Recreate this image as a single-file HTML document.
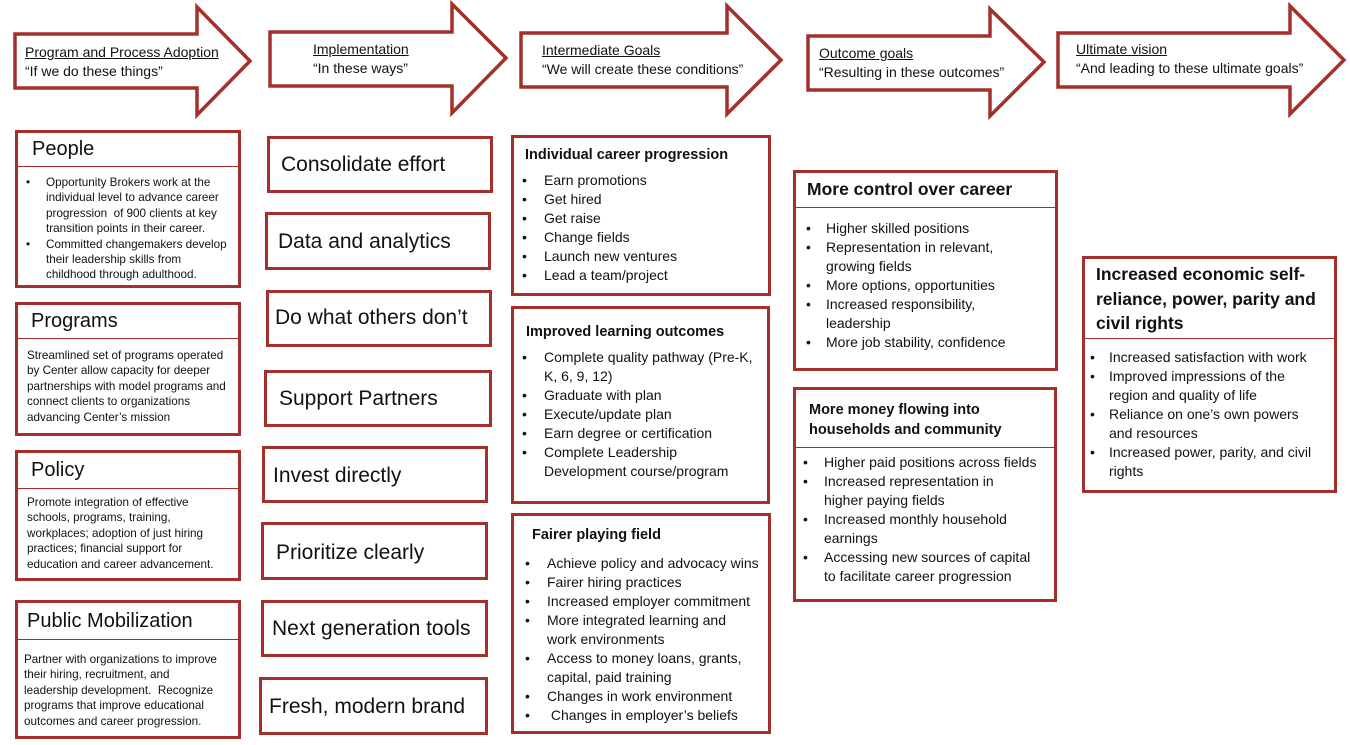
<!DOCTYPE html>
<html><head><meta charset="utf-8"><style>
*{margin:0;padding:0;box-sizing:border-box}
body{width:1350px;height:745px;background:#fff;position:relative;font-family:"Liberation Sans",sans-serif;color:#111;overflow:hidden}
.b{position:absolute;border:3px solid #a3302a;background:#fff}
.t{position:absolute;white-space:nowrap}
.hl{position:absolute;left:0;right:0;border-top:1px solid #a3302a}
ul{list-style:none;position:absolute;white-space:nowrap}
li{position:relative;padding-left:var(--p)}
li:before{content:"•";position:absolute;left:var(--bl)}
.s{font-size:11.7px;line-height:15.4px;white-space:nowrap}
.m{font-size:14px;line-height:19px}
.big{font-size:21px}
</style></head><body>
<svg width="1350" height="120" style="position:absolute;left:0;top:0" fill="#fff" stroke="#a3302a" stroke-width="3.5">
<polygon points="15,34 197,34 197,7 250,61 197,115 197,88 15,88"/>
<polygon points="270,32 452,32 452,4 506,58 452,113 452,86 270,86"/>
<polygon points="521,33 727,33 727,6 781,60 727,114 727,87 521,87"/>
<polygon points="808,36 990,36 990,9 1044,62 990,116 990,90 808,90"/>
<polygon points="1058,33 1290,33 1290,6 1344,60 1290,114 1290,87 1058,87"/>
</svg>
<div class="t" style="left:25px;top:43px;font-size:14px;line-height:19px"><u>Program and Process Adoption</u><br>“If we do these things”</div>
<div class="t" style="left:313px;top:40px;font-size:14px;line-height:19px"><u>Implementation</u><br>“In these ways”</div>
<div class="t" style="left:542px;top:41px;font-size:14px;line-height:19px"><u>Intermediate Goals</u><br>“We will create these conditions”</div>
<div class="t" style="left:819px;top:44px;font-size:14px;line-height:19px"><u>Outcome goals</u><br>“Resulting in these outcomes”</div>
<div class="t" style="left:1076px;top:40px;font-size:14px;line-height:19px"><u>Ultimate vision</u><br>“And leading to these ultimate goals”</div>

<!-- col1 -->
<div class="b" style="left:15px;top:130px;width:226px;height:158px">
<div class="t" style="left:14px;top:5px;font-size:20px">People</div>
<div class="hl" style="top:33px"></div>
<ul class="s" style="left:8px;top:42px;--p:20px;--bl:0">
<li>Opportunity Brokers work at the<br>individual level to advance career<br>progression &nbsp;of 900 clients at key<br>transition points in their career.</li>
<li>Committed changemakers develop<br>their leadership skills from<br>childhood through adulthood.</li></ul>
</div>
<div class="b" style="left:15px;top:302px;width:226px;height:134px">
<div class="t" style="left:13px;top:5px;font-size:20px">Programs</div>
<div class="hl" style="top:33px"></div>
<div class="s" style="position:absolute;left:9px;top:43px">Streamlined set of programs operated<br>by Center allow capacity for deeper<br>partnerships with model programs and<br>connect clients to organizations<br>advancing Center’s mission</div>
</div>
<div class="b" style="left:15px;top:450px;width:226px;height:131px">
<div class="t" style="left:13px;top:6px;font-size:20px">Policy</div>
<div class="hl" style="top:35px"></div>
<div class="s" style="position:absolute;left:9px;top:42px">Promote integration of effective<br>schools, programs, training,<br>workplaces; adoption of just hiring<br>practices; financial support for<br>education and career advancement.</div>
</div>
<div class="b" style="left:15px;top:600px;width:226px;height:139px">
<div class="t" style="left:9px;top:7px;font-size:20px">Public Mobilization</div>
<div class="hl" style="top:36px"></div>
<div class="s" style="position:absolute;left:6px;top:49px">Partner with organizations to improve<br>their hiring, recruitment, and<br>leadership development. &nbsp;Recognize<br>programs that improve educational<br>outcomes and career progression.</div>
</div>

<!-- col2 -->
<div class="b big" style="left:267px;top:136px;width:226px;height:57px"><div class="t" style="left:11px;top:14px">Consolidate effort</div></div>
<div class="b big" style="left:265px;top:212px;width:226px;height:58px"><div class="t" style="left:10px;top:15px">Data and analytics</div></div>
<div class="b big" style="left:266px;top:290px;width:226px;height:57px"><div class="t" style="left:6px;top:13px">Do what others don’t</div></div>
<div class="b big" style="left:264px;top:370px;width:228px;height:57px"><div class="t" style="left:12px;top:14px">Support Partners</div></div>
<div class="b big" style="left:262px;top:446px;width:226px;height:57px"><div class="t" style="left:8px;top:15px">Invest directly</div></div>
<div class="b big" style="left:261px;top:522px;width:227px;height:58px"><div class="t" style="left:12px;top:16px">Prioritize clearly</div></div>
<div class="b big" style="left:261px;top:600px;width:227px;height:57px"><div class="t" style="left:8px;top:14px">Next generation tools</div></div>
<div class="b big" style="left:259px;top:677px;width:229px;height:58px"><div class="t" style="left:7px;top:15px">Fresh, modern brand</div></div>

<!-- col3 -->
<div class="b" style="left:511px;top:135px;width:260px;height:161px">
<div class="t" style="left:11px;top:9px;font-size:14.5px;font-weight:bold">Individual career progression</div>
<ul class="m" style="left:8px;top:33px;--p:22px;--bl:0">
<li>Earn promotions</li><li>Get hired</li><li>Get raise</li><li>Change fields</li><li>Launch new ventures</li><li>Lead a team/project</li></ul>
</div>
<div class="b" style="left:511px;top:306px;width:259px;height:198px">
<div class="t" style="left:12px;top:15px;font-size:14.5px;font-weight:bold">Improved learning outcomes</div>
<ul class="m" style="left:8px;top:39px;--p:22px;--bl:0">
<li>Complete quality pathway (Pre-K,<br>K, 6, 9, 12)</li><li>Graduate with plan</li><li>Execute/update plan</li><li>Earn degree or certification</li><li>Complete Leadership<br>Development course/program</li></ul>
</div>
<div class="b" style="left:511px;top:513px;width:260px;height:221px">
<div class="t" style="left:18px;top:11px;font-size:14.5px;font-weight:bold">Fairer playing field</div>
<ul class="m" style="left:11px;top:38px;--p:22px;--bl:0">
<li>Achieve policy and advocacy wins</li><li>Fairer hiring practices</li><li>Increased employer commitment</li><li>More integrated learning and<br>work environments</li><li>Access to money loans, grants,<br>capital, paid training</li><li>Changes in work environment</li><li>&nbsp;Changes in employer’s beliefs</li></ul>
</div>

<!-- col4 -->
<div class="b" style="left:793px;top:170px;width:265px;height:201px">
<div class="t" style="left:11px;top:6px;font-size:17.5px;font-weight:bold">More control over career</div>
<div class="hl" style="top:34px"></div>
<ul class="m" style="left:10px;top:46px;--p:20px;--bl:0">
<li>Higher skilled positions</li><li>Representation in relevant,<br>growing fields</li><li>More options, opportunities</li><li>Increased responsibility,<br>leadership</li><li>More job stability, confidence</li></ul>
</div>
<div class="b" style="left:793px;top:387px;width:264px;height:215px">
<div class="t" style="left:13px;top:10px;font-size:14.5px;font-weight:bold;line-height:20px">More money flowing into<br>households and community</div>
<div class="hl" style="top:57px"></div>
<ul class="m" style="left:7px;top:63px;--p:21px;--bl:0">
<li>Higher paid positions across fields</li><li>Increased representation in<br>higher paying fields</li><li>Increased monthly household<br>earnings</li><li>Accessing new sources of capital<br>to facilitate career progression</li></ul>
</div>

<!-- col5 -->
<div class="b" style="left:1082px;top:256px;width:255px;height:237px">
<div class="t" style="left:11px;top:3px;font-size:17.5px;font-weight:bold;line-height:24.5px">Increased economic self-<br>reliance, power, parity and<br>civil rights</div>
<div class="hl" style="top:79px"></div>
<ul class="m" style="left:5px;top:89px;--p:19px;--bl:0">
<li>Increased satisfaction with work</li><li>Improved impressions of the<br>region and quality of life</li><li>Reliance on one’s own powers<br>and resources</li><li>Increased power, parity, and civil<br>rights</li></ul>
</div>
</body></html>
